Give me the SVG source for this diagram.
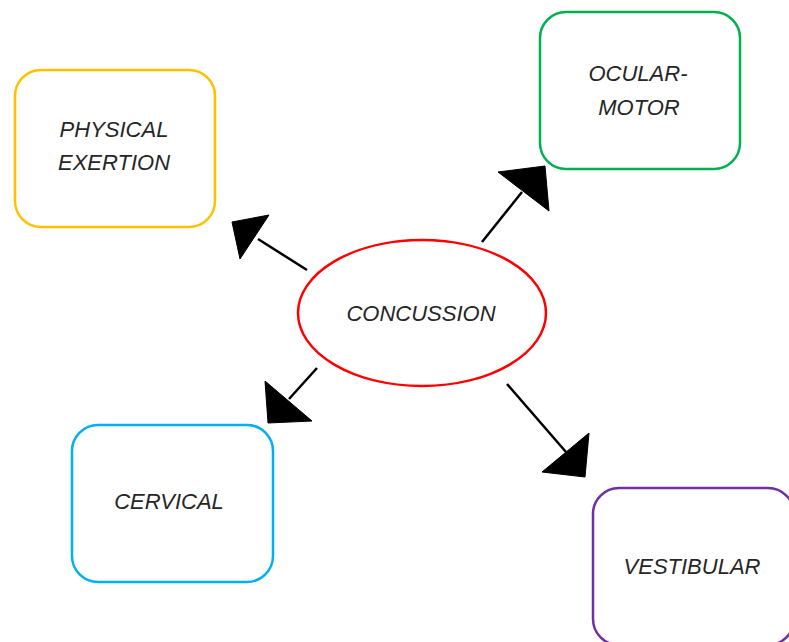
<svg xmlns="http://www.w3.org/2000/svg" width="789" height="642" viewBox="0 0 789 642">
<style>
.box{fill:#fff;stroke-width:2.5}
.lbl{font-family:"Liberation Sans",Arial,sans-serif;font-style:italic;font-size:22px;fill:#262626;text-anchor:middle}
.ln{stroke:#000;stroke-width:2.5;fill:none}
.hd{fill:#000;stroke:#000;stroke-width:1}
</style>
<rect width="789" height="642" fill="#fff"/>
<g id="physical-exertion">
<rect class="box" x="15" y="70" width="200" height="157" rx="26" stroke="#FFC000"/>
<text class="lbl" x="114" y="137">PHYSICAL</text>
<text class="lbl" x="114" y="170">EXERTION</text>
</g>
<g id="ocular-motor">
<rect class="box" x="540" y="12" width="200" height="157" rx="26" stroke="#00B050"/>
<text class="lbl" x="638" y="81">OCULAR-</text>
<text class="lbl" x="639" y="115">MOTOR</text>
</g>
<g id="cervical">
<rect class="box" x="72" y="425" width="201" height="157" rx="26" stroke="#00B0F0"/>
<text class="lbl" x="169" y="509">CERVICAL</text>
</g>
<g id="vestibular">
<rect class="box" x="593" y="488" width="201" height="157" rx="26" stroke="#7030A0"/>
<text class="lbl" x="692" y="574">VESTIBULAR</text>
</g>
<g id="concussion">
<ellipse cx="422" cy="313" rx="124" ry="73" fill="#fff" stroke="#FF0000" stroke-width="2.5"/>
<text class="lbl" x="421" y="321">CONCUSSION</text>
</g>
<g id="connectors">
<line class="ln" x1="307" y1="270" x2="258" y2="239"/>
<polygon class="hd" points="232,222 269,215 240,259"/>
<line class="ln" x1="482" y1="242" x2="522" y2="192"/>
<polygon class="hd" points="498,172 545,166 549,211"/>
<line class="ln" x1="317" y1="368" x2="289" y2="399"/>
<polygon class="hd" points="265,381 268,423 312,421"/>
<line class="ln" x1="507" y1="384" x2="566" y2="452"/>
<polygon class="hd" points="589,433 585,477 542,472"/>
</g>
</svg>
